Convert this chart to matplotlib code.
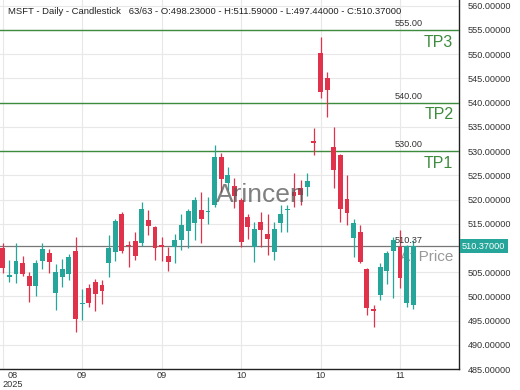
import matplotlib
matplotlib.use("Agg")
import matplotlib.pyplot as plt
import matplotlib.transforms as mtransforms
import numpy as np

plt.rcParams['font.family'] = ['Liberation Sans', 'DejaVu Sans']

# ---- data ----
opens = [510.07, 504.12, 504.64, 506.85, 504.29, 502.22, 507.32, 508.91, 500.65, 504.02,
         504.57, 509.45, 498.38, 501.69, 503.05, 502.37, 506.97, 509.12, 517.02, 510.68,
         511.45, 510.97, 515.78, 514.40, 510.56, 508.35, 510.27, 511.65, 513.57, 515.22,
         517.85, 517.37, 518.88, 528.72, 523.36, 522.80, 519.91, 516.34, 510.27, 515.43,
         512.83, 509.24, 515.22, 517.75, 521.56, 522.32, 522.66, 532.09, 550.19, 545.03,
         530.79, 529.20, 520.05, 512.01, 513.37, 505.61, 497.31, 500.30, 505.32, 509.45,
         510.15, 498.59, 498.23]
highs = [511.10, 507.53, 510.97, 508.35, 505.11, 507.53, 511.10, 509.73, 506.64, 507.79,
         508.76, 512.21, 501.54, 502.51, 503.54, 503.40, 512.69, 515.99, 517.50, 511.51,
         513.24, 519.56, 517.85, 514.54, 512.34, 510.27, 512.83, 517.02, 517.99, 520.47,
         521.62, 520.59, 531.26, 529.55, 526.72, 524.45, 520.32, 517.02, 515.43, 517.50,
         517.02, 515.43, 518.88, 518.88, 525.42, 524.04, 525.48, 534.71, 553.62, 546.39,
         535.04, 529.40, 525.07, 515.93, 514.75, 505.87, 498.24, 506.97, 509.45, 512.34,
         513.72, 510.62, 511.59]
lows = [504.78, 503.05, 502.72, 504.29, 498.80, 500.10, 505.67, 504.78, 497.21, 502.02,
        503.40, 492.73, 495.14, 497.89, 497.00, 498.38, 504.08, 507.38, 508.91, 506.14,
        507.53, 510.42, 512.69, 507.53, 507.38, 505.26, 506.97, 509.59, 509.94, 511.65,
        510.97, 514.96, 518.53, 521.62, 521.97, 518.26, 510.15, 511.80, 507.11, 510.27,
        508.46, 507.53, 513.31, 513.37, 518.53, 518.88, 520.74, 529.20, 540.90, 536.98,
        522.32, 515.43, 514.75, 508.21, 506.85, 496.17, 493.76, 499.27, 502.57, 499.62,
        501.69, 497.89, 497.44]
closes = [505.82, 504.33, 507.32, 504.64, 502.22, 506.85, 509.73, 507.05, 505.05, 505.61,
          508.15, 495.29, 498.65, 498.59, 500.45, 501.19, 509.94, 515.58, 509.45, 510.42,
          508.41, 518.05, 514.54, 509.94, 510.31, 507.18, 511.65, 514.75, 517.70, 519.91,
          515.99, 517.58, 528.72, 524.24, 525.13, 520.74, 511.30, 514.28, 513.86, 513.72,
          511.86, 513.86, 517.02, 517.95, 520.74, 520.94, 523.83, 531.61, 542.26, 542.61,
          526.10, 517.99, 517.29, 515.10, 507.18, 497.56, 497.10, 506.14, 509.03, 511.65,
          503.75, 510.42, 510.37]

tick_idx = [0, 12, 24, 36, 48, 60]
tick_labels = ["08\n2025", "09", "09", "10", "10", "11"]
price_ticks = [485, 490, 495, 500, 505, 515, 520, 525, 530, 535, 540, 545, 550, 555, 560]
tp_levels = [555.0, 540.0, 530.0]
tp_names = ["TP3", "TP2", "TP1"]
last_price = 510.37
title = ("MSFT - Daily - Candlestick   63/63 - O:498.23000 - H:511.59000 - "
         "L:497.44000 - C:510.37000")

# ---- styling ----
UP = '#26a69a'
DOWN = '#e0334b'
TPC = '#3d8b3d'

fig = plt.figure(figsize=(5.2, 3.9), dpi=100)
ax = fig.add_axes([0.0, 0.0531, 0.8833, 0.9469])

o = np.array(opens); h = np.array(highs); l = np.array(lows); c = np.array(closes)
x = np.arange(len(o))
up = c >= o
cols = np.where(up, UP, DOWN)

ax.vlines(x, l, h, colors=cols, linewidth=0.9, zorder=4)
bottom = np.minimum(o, c)
height = np.maximum(np.abs(c - o), 0.3)
ax.bar(x, height, bottom=bottom, width=0.74, color=cols, linewidth=0, zorder=5)

ax.set_xlim(-0.41, 68.96)
ax.set_ylim(484.97, 561.19)

# grid
ax.set_yticks(price_ticks)
ax.set_yticklabels([f"{v:.5f}" for v in price_ticks])
ax.set_xticks(tick_idx)
ax.set_xticklabels(tick_labels, linespacing=0.95)
ax.grid(True, color='#e8e8e8', linewidth=0.8, zorder=0)
ax.set_axisbelow(True)
ax.yaxis.tick_right()
ax.tick_params(axis='y', length=0, pad=6, labelsize=6.6, labelcolor='#333333')
ax.tick_params(axis='x', length=0, pad=1.5, labelsize=6.6, labelcolor='#333333')
first = ax.get_xticklabels()[0]
first.set_ha('left')
first.set_multialignment('center')

for s in ['top', 'left']:
    ax.spines[s].set_visible(False)
for s in ['right', 'bottom']:
    ax.spines[s].set_color('#222222')
    ax.spines[s].set_linewidth(1.0)

trans = mtransforms.blended_transform_factory(ax.transAxes, ax.transData)

# TP lines
for lvl, name in zip(tp_levels, tp_names):
    ax.axhline(lvl, color=TPC, linewidth=1.0, zorder=3)
    ax.text(0.86, lvl + 0.35, f"{lvl:.2f}", transform=trans, fontsize=6.6,
            color='#333333', ha='left', va='bottom', zorder=6)
    ax.text(0.987, lvl - 2.5, name, transform=trans, fontsize=11.5,
            color=TPC, ha='right', va='center', zorder=6)

# current price line
ax.axhline(last_price, color='#777777', linewidth=0.9, zorder=3)
ax.text(0.86, last_price + 0.35, f"{last_price:.2f}", transform=trans, fontsize=6.6,
        color='#333333', ha='left', va='bottom', zorder=6)
ax.text(0.987, 508.05, "At Price", transform=trans, fontsize=11, color='#999999',
        ha='right', va='center', zorder=3)
ax.text(1.006, last_price, f"{last_price:.5f}", transform=trans, fontsize=6.6,
        color='white', ha='left', va='center', zorder=7, clip_on=False,
        bbox=dict(boxstyle='square,pad=0.25', facecolor=UP, edgecolor='none'))

# watermark
ax.text(0.568, 521.0, "Arincen", transform=trans, fontsize=19, color='#555555',
        alpha=0.75, ha='center', va='center', zorder=6)

# title
fig.text(8 / 520, 1 - 12 / 390, title, fontsize=6.8, color='#222222',
         ha='left', va='center')

fig.savefig("out.png", dpi=100)
